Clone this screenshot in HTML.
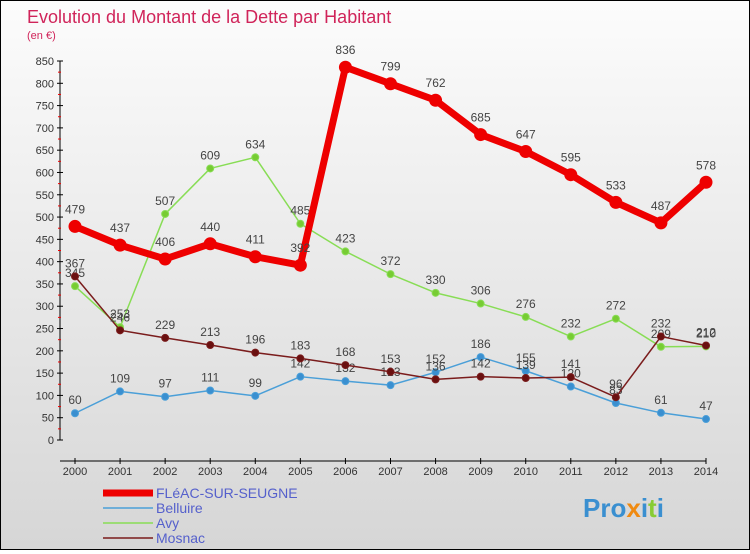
<!DOCTYPE html>
<html><head><meta charset="utf-8"><style>
html,body{margin:0;padding:0}
body{width:750px;height:550px;overflow:hidden;font-family:"Liberation Sans",sans-serif}
#wrap{position:absolute;left:0;top:0;width:748px;height:548px;border:1px solid #000;background:linear-gradient(#fcfcfc,#d6d6d6)}
</style></head><body>
<div id="wrap">
<svg id="chart" width="748" height="548"></svg>
</div>
<script>
const years=["2000","2001","2002","2003","2004","2005","2006","2007","2008","2009","2010","2011","2012","2013","2014"];
const fleac=[479,437,406,440,411,392,836,799,762,685,647,595,533,487,578];
const belluire=[60,109,97,111,99,142,132,123,152,186,155,120,83,61,47];
const avy=[345,253,507,609,634,485,423,372,330,306,276,232,272,209,210];
const mosnac=[367,246,229,213,196,183,168,153,136,142,139,141,96,232,212];
const yTicks=[0,50,100,150,200,250,300,350,400,450,500,550,600,650,700,750,800,850];
const seriesNames=["FLéAC-SUR-SEUGNE","Belluire","Avy","Mosnac"];
const NS="http://www.w3.org/2000/svg";
const svg=document.getElementById('chart');
function X(i){return 74+i*(705-74)/(years.length-1);}
function Y(v){return 439-v*(379/850);}
function mk(t,a,p){const e=document.createElementNS(NS,t);for(const k in a)e.setAttribute(k,a[k]);(p||svg).appendChild(e);return e;}
function txt(x,y,s,a){const e=mk('text',Object.assign({x:x,y:y},a));e.textContent=s;return e;}
let t=txt(26,22,"Evolution du Montant de la Dette par Habitant",{fill:"#d0245a","font-size":"18"});


t=txt(26,38,"(en €)",{fill:"#d0245a","font-size":"11"});


let ax=mk('line',{x1:59,y1:Y(0),x2:59,y2:Y(850),stroke:"#000"});


yTicks.forEach(v=>{mk('line',{x1:56,y1:Y(v),x2:62,y2:Y(v),stroke:"#000"});
 if(v<850)mk('line',{x1:57,y1:Y(v+25),x2:60,y2:Y(v+25),stroke:"#e00"});
 const l=txt(53,Y(v)+4,String(v),{"text-anchor":"end","font-size":"11",fill:"#333"});
 
 });
let xa=mk('line',{x1:59,y1:Y(0)+20-20+21,x2:X(14),y2:Y(0)+21,stroke:"#000"});


years.forEach((y,i)=>{mk('line',{x1:X(i),y1:Y(0)+18,x2:X(i),y2:Y(0)+24,stroke:"#000"});
 const l=txt(X(i),Y(0)+35,y,{"text-anchor":"middle","font-size":"11",fill:"#333"});
 
 });
function series(data,color,w,r,name,dot){
 const g=mk('g',{});
 
 
 mk('polyline',{points:data.map((v,i)=>X(i)+','+Y(v)).join(' '),fill:"none",stroke:color,"stroke-width":w,"stroke-linejoin":"round"},g);
 data.forEach((v,i)=>{const c=mk('circle',{cx:X(i),cy:Y(v),r:r,fill:dot,stroke:color,"stroke-width":1},g);
  
  
  const l=txt(X(i),Y(v)-9-(w>4?4:0),String(v),{"text-anchor":"middle","font-size":"12",fill:"#444"},g);
  
  });
}
series(belluire,"#4a9fd8",1.5,3.5,"belluire-series","#3a8fd0");
series(avy,"#88dd55",1.5,3.5,"avy-series","#77cc33");
series(mosnac,"#7a1c1c",1.5,3.5,"mosnac-series","#6a1010");
series(fleac,"#ee0000",7,6,"fleac-series","#ee0000");
const leg=[["#ee0000",7],["#4a9fd8",1.5],["#88dd55",1.5],["#7a1c1c",1.5]];
seriesNames.forEach((n,i)=>{const y=492+i*15;
 const g=mk('g',{});
 
 
 mk('line',{x1:102,y1:y,x2:152,y2:y,stroke:leg[i][0],"stroke-width":leg[i][1]},g);
 txt(155,y+5,n,{"font-size":"14",fill:"#5560cc"},g);});
const lg=mk('text',{x:582,y:516,"font-size":"26","font-weight":"bold",fill:"#3a8fd0"});


lg.innerHTML='Pro<tspan fill="#f08a10">x</tspan>i<tspan fill="#88cc33">t</tspan>i';
</script>
</body></html>
